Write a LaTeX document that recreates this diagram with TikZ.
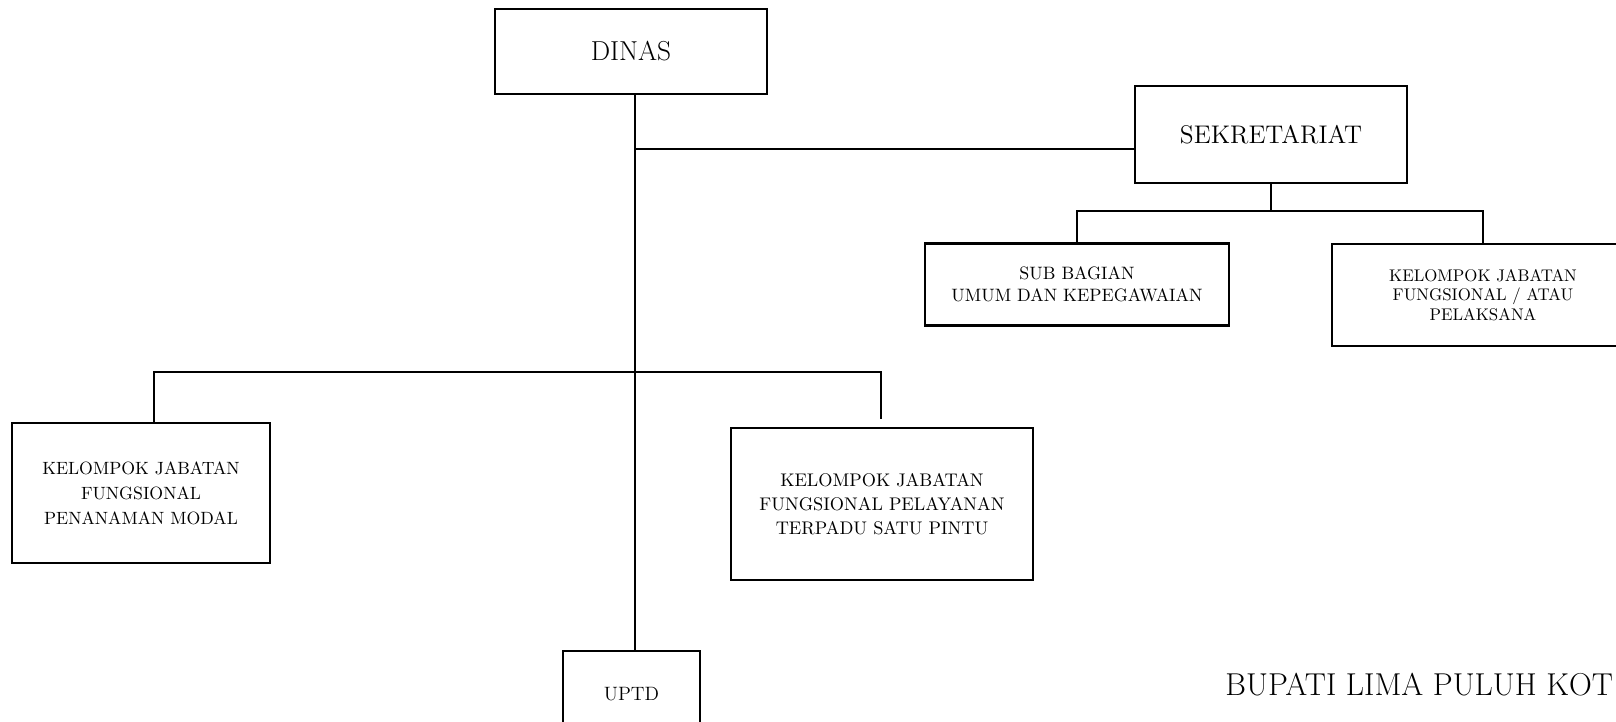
\documentclass[tikz,border=0pt]{standalone}
\usepackage{tikz}
\usetikzlibrary{calc}

\begin{document}
\begin{tikzpicture}[
    x=2cm, y=2cm,
    node distance=3cm,
    line width=1.2pt,
    box/.style={rectangle, draw, inner sep=0pt, align=center, text centered},
    kecil/.style={font=\fontsize{10.2}{14}\selectfont}
]
    \useasboundingbox (0,0) rectangle (16.16,-7.22);

    \node[box, minimum width=5.44cm, minimum height=1.7cm, font=\fontsize{15.6}{18}\selectfont] (dinas) at (6.31,-0.515) {DINAS};
    \node[box, minimum width=5.44cm, minimum height=1.94cm, font=\fontsize{14.5}{16}\selectfont, right of=dinas, xshift=9.8cm, yshift=-1.66cm] (sek) {SEKRETARIAT};
    \node[box, minimum width=6.08cm, minimum height=1.64cm, below of=sek, xshift=-3.88cm, font=\fontsize{10.2}{12.4}\selectfont] (sub) {SUB BAGIAN\\UMUM DAN KEPEGAWAIAN};
    \node[box, minimum width=6.04cm, minimum height=2.04cm, below of=sek, xshift=4.24cm, yshift=-0.21cm, font=\fontsize{9.6}{11}\selectfont] (jfp) {KELOMPOK JABATAN\\FUNGSIONAL / ATAU\\PELAKSANA};
    \node[box, minimum width=5.16cm, minimum height=2.8cm, font=\fontsize{10.1}{14.2}\selectfont] (jfpm) at (1.41,-4.93) {KELOMPOK JABATAN\\FUNGSIONAL\\PENANAMAN MODAL};
    \node[box, minimum width=6.04cm, minimum height=3.04cm, font=\fontsize{10.4}{13.8}\selectfont] (jfptsp) at (8.82,-5.04) {KELOMPOK JABATAN\\FUNGSIONAL PELAYANAN\\TERPADU SATU PINTU};
    \node[box, minimum width=2.74cm, minimum height=1.74cm, font=\fontsize{11}{13}\selectfont] (uptd) at (6.315,-6.945) {UPTD};
    \node[anchor=base east, inner sep=0pt, font=\fontsize{18}{21}\selectfont] (bupati) at (16.14,-6.95) {BUPATI LIMA PULUH KOT};

    \coordinate (jsek) at (6.35,-1.49);
    \coordinate (kiri) at (1.54,-3.72);
    \coordinate (kanan) at (8.81,-3.72);

    % garis utama
    \draw (dinas.south -| jsek) -- (uptd.north -| jsek);
    \draw (jsek) -- (jsek -| sek.west);
    \draw (sek.south) -- ++(0,-0.27) coordinate (jsub);
    \draw (sub.north) |- (jsub) -| (jfp.north);
    % cabang bawah
    \draw (kiri |- jfpm.north) -- (kiri) -- (kanan) -- ($(kanan |- jfptsp.north)+(0,0.08)$);
\end{tikzpicture}
\end{document}
